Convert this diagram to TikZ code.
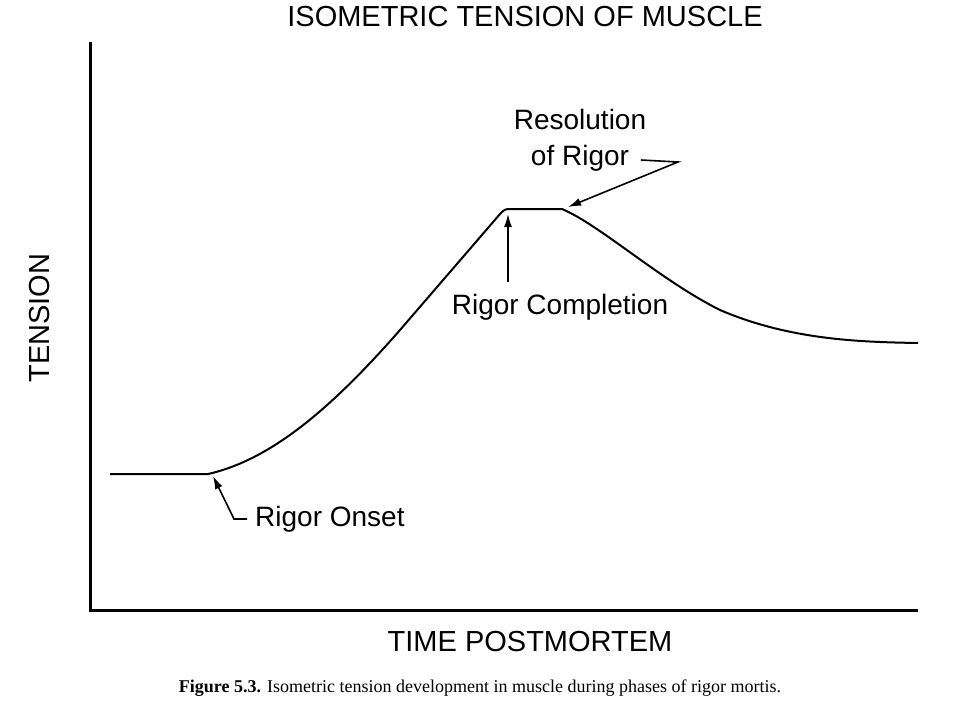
\documentclass[tikz,border=0pt]{standalone}
\usepackage{fontspec}
\setmainfont{Liberation Sans}
\newfontfamily\capfont{Liberation Serif}
\usetikzlibrary{arrows.meta,positioning}
\begin{document}
\begin{tikzpicture}[x=1pt,y=-1pt,
	lbl/.style={font=\fontsize{28}{32}\selectfont, inner sep=0pt},
	pointer/.style={line width=1.6pt, -{Latex[length=13pt,width=8pt]}}]
	\useasboundingbox (0,0) rectangle (960,720);
	
	% Axes
	\draw [line width=3pt] (90,42) -- (90,610) -- (918,610);
	
	% Tension curve
	\draw [line width=2pt] (110,474) -- (208,474)
		.. controls (270,460) and (330,410) .. (400,330)
		-- (500,214) .. controls (505,209) .. (512,209) -- (562,209)
		.. controls (600,225) and (660,280) .. (720,310)
		.. controls (790,340) and (860,342) .. (918,343);
	
	% Labels
	\node (title) at (525,17) [lbl, font=\fontsize{29}{32}\selectfont] {ISOMETRIC TENSION OF MUSCLE};
	\node (yaxis) at (40,318) [lbl, rotate=90, font=\fontsize{29}{32}\selectfont] {TENSION};
	\node (xaxis) at (530,642) [lbl, font=\fontsize{29}{32}\selectfont] {TIME POSTMORTEM};
	\node (onset) at (255,519) [lbl, anchor=west] {Rigor Onset};
	\node (compl) at (560,307) [lbl] {Rigor Completion};
	\node (resol) at (580,140) [lbl, align=center, font=\fontsize{28}{36}\selectfont] {Resolution\\of Rigor};
	\node (caption) at (480,688) [inner sep=0pt, font=\capfont\fontsize{18}{20}\selectfont]
		{\textbf{Figure 5.3.} Isometric tension development in muscle during phases of rigor mortis.};
	
	% Pointers
	\coordinate (onsetTip) at (213,476);
	\coordinate (complTip) at (508,214);
	\coordinate (resolTip) at (568,207);
	\coordinate (resolBend) at (678,162);
	\draw [pointer] (247,519) -- (234,519) -- (onsetTip);
	\draw [pointer] (508,282) -- (complTip);
	\draw [pointer] (641,160) -- (resolBend) -- (resolTip);
\end{tikzpicture}
\end{document}
